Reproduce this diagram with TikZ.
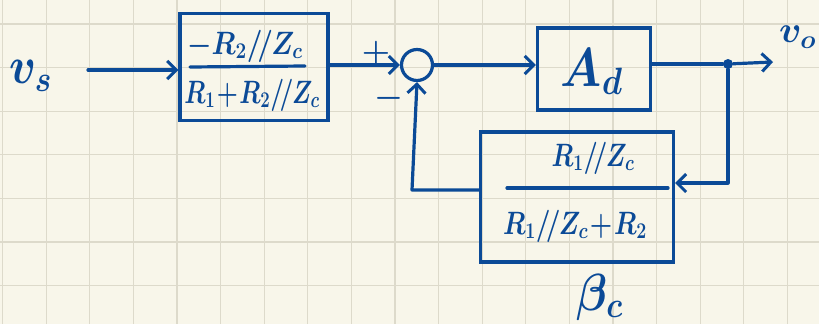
\documentclass[tikz,border=0pt]{standalone}
\usepackage{graphicx}
\usetikzlibrary{arrows.meta}
\definecolor{ink}{HTML}{0B4A97}
\definecolor{paper}{HTML}{F8F6EA}
\definecolor{gridc}{HTML}{DDDACB}
\tikzset{
  wire/.style={draw=ink, line width=3.2pt, line cap=round, line join=round},
  arr/.style={wire, -{Straight Barb[length=9pt,width=18pt,line width=3pt]}},
  blk/.style={draw=ink, line width=3.4pt, rectangle, inner sep=0pt},
  lbl/.style={text=ink, inner sep=0pt, font=\fontsize{24}{28}\selectfont\boldmath},
  sumc/.style={draw=ink, line width=3.2pt, circle, minimum size=31pt, inner sep=0pt},
  dotn/.style={fill=ink, circle, minimum size=10pt, inner sep=0pt}
}
\begin{document}
\begin{tikzpicture}[x=1pt,y=-1pt]
\fill[paper] (0,0) rectangle (819,324);
\useasboundingbox (0,0) rectangle (819,324);
\foreach \i in {0,...,18} \draw[gridc, line width=1.2pt] ({2.5+43.6*\i},0) -- ++(0,324);
\foreach \j in {0,...,7} \draw[gridc, line width=1.2pt] (0,{24+43.6*\j}) -- ++(819,0);

% input label
\node[lbl] (vs) at (31,76) {\scalebox{1.8}[2.1]{$v_s$}};
\coordinate (in) at (88,70);

% forward block
\node[blk, minimum width=148pt, minimum height=107pt] (g1) at (254,67) {};
\node[lbl] (g1n) at (245,46) {\scalebox{1.1}[1.3]{$-R_2/\!/Z_c$}};
\node[lbl] (g1d) at (252,95) {\scalebox{0.97}[1.3]{$R_1\!+\!R_2/\!/Z_c$}};
\coordinate (g1a) at (190,67);
\coordinate (g1b) at (305,66);
\draw[wire] (g1a) -- (g1b);

% summing junction
\node[sumc] (sum) at (417,65) {};
\node[lbl] (plus) at (376,53) {\scalebox{1.3}{$+$}};
\node[lbl] (minus) at (389,98) {\scalebox{1.3}{$-$}};

% amplifier block
\node[blk, minimum width=113pt, minimum height=82pt] (ad) at (594,69) {};
\node[lbl] (adt) at (592,72) {\scalebox{1.9}[2.2]{$A_d$}};

% output
\node[dotn] (dot) at (728,64) {};
\coordinate (out) at (773,62);
\node[lbl, anchor=west] (vo) at (779,37) {\scalebox{1.5}{$v_o$}};

% feedback block
\node[blk, minimum width=193pt, minimum height=130pt] (fb) at (577,197) {};
\node[lbl] (fbn) at (593,158) {\scalebox{1}[1.3]{$R_1/\!/Z_c$}};
\node[lbl] (fbd) at (575,226) {\scalebox{1.03}[1.3]{$R_1/\!/Z_c\!+\!R_2$}};
\coordinate (fba) at (507,188);
\coordinate (fbb) at (668,188);
\draw[wire] (fba) -- (fbb);
\node[lbl] (bc) at (600,297) {\scalebox{1.8}[2.1]{$\beta_c$}};

% connectors
\draw[arr] (in) -- (g1.west |- in);
\draw[arr] (g1.east |- sum) -- (sum.west);
\draw[arr] (sum.east) -- (ad.west |- sum);
\draw[wire] (ad.east |- dot) -- (dot);
\draw[arr] (dot) -- (out);
\coordinate (fr) at (675,183);
\draw[arr] (dot) -- (dot |- fr) -- (fr);
\coordinate (fl) at (412,190);
\draw[arr] (fb.west |- fl) -- (fl) -- (sum.south);
\end{tikzpicture}
\end{document}
